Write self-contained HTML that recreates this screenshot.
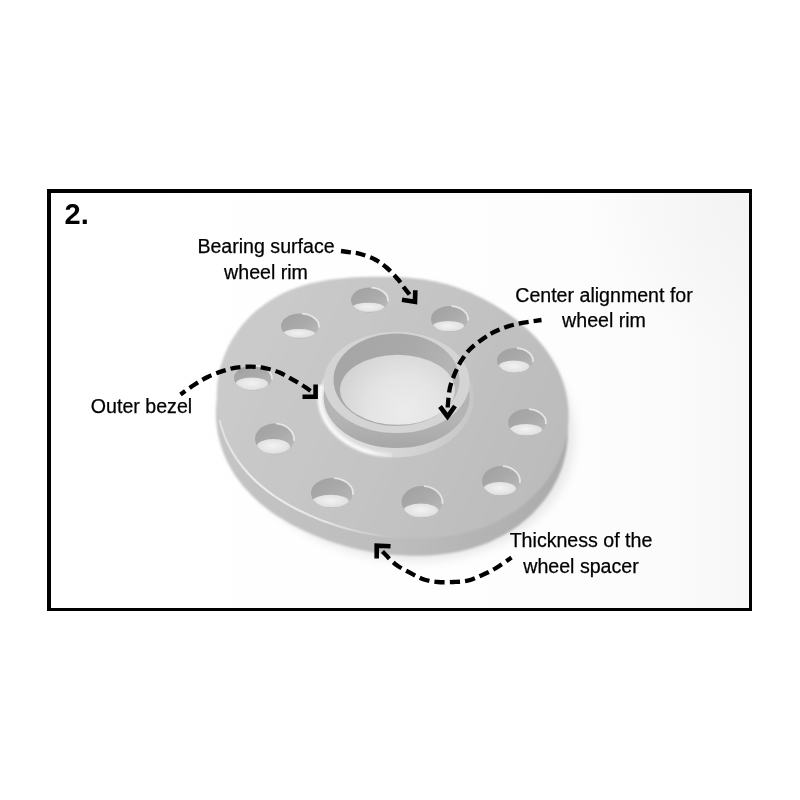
<!DOCTYPE html>
<html><head><meta charset="utf-8">
<style>
html,body{margin:0;padding:0;background:#fff;}
body{width:800px;height:800px;overflow:hidden;position:relative;font-family:"Liberation Sans",sans-serif;}
svg{position:absolute;left:0;top:0;}
.lbl{position:absolute;font-size:19.6px;color:#000;-webkit-text-stroke:0.25px #000;text-align:center;line-height:25px;white-space:nowrap;}
</style></head>
<body>
<svg width="800" height="800" viewBox="0 0 800 800">
<defs>
  <linearGradient id="bg" gradientUnits="userSpaceOnUse" x1="51" y1="0" x2="749" y2="0">
    <stop offset="0" stop-color="#ffffff"/>
    <stop offset="0.5" stop-color="#fefefe"/>
    <stop offset="0.75" stop-color="#fdfdfd"/>
    <stop offset="0.88" stop-color="#fbfbfb"/>
    <stop offset="1" stop-color="#f7f7f7"/>
  </linearGradient>
  <radialGradient id="bgtr" gradientUnits="userSpaceOnUse" cx="749" cy="193" r="160">
    <stop offset="0" stop-color="#f3f3f3" stop-opacity="1"/>
    <stop offset="1" stop-color="#f3f3f3" stop-opacity="0"/>
  </radialGradient>
  <filter id="blurH" x="-30%" y="-30%" width="160%" height="160%"><feGaussianBlur stdDeviation="5"/></filter>
  <filter id="hb" x="-5%" y="-5%" width="110%" height="110%"><feGaussianBlur stdDeviation="0.45"/></filter>
  <filter id="soft" x="-5%" y="-5%" width="110%" height="110%"><feGaussianBlur stdDeviation="0.8"/></filter>
  <linearGradient id="face" gradientUnits="userSpaceOnUse" x1="230" y1="330" x2="560" y2="480">
    <stop offset="0" stop-color="#cbcbcb"/>
    <stop offset="0.45" stop-color="#c5c5c5"/>
    <stop offset="1" stop-color="#bbbbbb"/>
  </linearGradient>
  <linearGradient id="side" gradientUnits="userSpaceOnUse" x1="220" y1="0" x2="570" y2="0">
    <stop offset="0" stop-color="#c4c4c4"/>
    <stop offset="0.5" stop-color="#bdbdbd"/>
    <stop offset="1" stop-color="#aaaaaa"/>
  </linearGradient>
  <linearGradient id="wall" gradientUnits="userSpaceOnUse" x1="350" y1="340" x2="460" y2="390">
    <stop offset="0" stop-color="#a6a6a6"/>
    <stop offset="0.5" stop-color="#a9a9a9"/>
    <stop offset="1" stop-color="#bababa"/>
  </linearGradient>
  <radialGradient id="floor" gradientUnits="userSpaceOnUse" cx="405" cy="412" r="72">
    <stop offset="0" stop-color="#ececec"/>
    <stop offset="0.5" stop-color="#e4e4e4"/>
    <stop offset="1" stop-color="#d2d2d2"/>
  </radialGradient>
  <linearGradient id="hubside" gradientUnits="userSpaceOnUse" x1="0" y1="420" x2="0" y2="450">
    <stop offset="0" stop-color="#b4b4b4"/>
    <stop offset="1" stop-color="#a6a6a6"/>
  </linearGradient>
  <linearGradient id="fillet" gradientUnits="userSpaceOnUse" x1="320" y1="0" x2="475" y2="0">
    <stop offset="0" stop-color="#e2e2e2"/>
    <stop offset="0.5" stop-color="#d6d6d6"/>
    <stop offset="1" stop-color="#c6c6c6"/>
  </linearGradient>
  <linearGradient id="hwall" x1="0" y1="0" x2="1" y2="1">
    <stop offset="0" stop-color="#a0a0a0"/>
    <stop offset="0.5" stop-color="#aaaaaa"/>
    <stop offset="1" stop-color="#bcbcbc"/>
  </linearGradient>
  <radialGradient id="hfloor" cx="0.5" cy="0.45" r="0.6">
    <stop offset="0" stop-color="#f2f2f2"/>
    <stop offset="0.7" stop-color="#e4e4e4"/>
    <stop offset="1" stop-color="#d2d2d2"/>
  </radialGradient>
  <linearGradient id="flh" gradientUnits="userSpaceOnUse" x1="320" y1="0" x2="400" y2="0">
    <stop offset="0" stop-color="#f8f8f8" stop-opacity="0.95"/>
    <stop offset="0.6" stop-color="#f8f8f8" stop-opacity="1"/>
    <stop offset="1" stop-color="#eeeeee" stop-opacity="0.3"/>
  </linearGradient>
  <linearGradient id="wlg" gradientUnits="userSpaceOnUse" x1="216" y1="0" x2="400" y2="0">
    <stop offset="0" stop-color="#ececec" stop-opacity="0.6"/>
    <stop offset="0.2" stop-color="#ececec" stop-opacity="1"/>
    <stop offset="0.6" stop-color="#e8e8e8" stop-opacity="0.9"/>
    <stop offset="1" stop-color="#e0e0e0" stop-opacity="0"/>
  </linearGradient>
  <clipPath id="boreclip"><ellipse cx="396.5" cy="379.7" rx="63" ry="46.3"/></clipPath>
  <clipPath id="hc0"><ellipse cx="369.5" cy="300" rx="18.5" ry="12.5"/></clipPath>
<clipPath id="hc1"><ellipse cx="449.5" cy="319" rx="18.5" ry="13"/></clipPath>
<clipPath id="hc2"><ellipse cx="515" cy="360.5" rx="18" ry="12.5"/></clipPath>
<clipPath id="hc3"><ellipse cx="527" cy="422.5" rx="19" ry="13.5"/></clipPath>
<clipPath id="hc4"><ellipse cx="501" cy="481" rx="19" ry="15"/></clipPath>
<clipPath id="hc5"><ellipse cx="422" cy="502" rx="20.5" ry="16"/></clipPath>
<clipPath id="hc6"><ellipse cx="332" cy="493" rx="21" ry="15"/></clipPath>
<clipPath id="hc7"><ellipse cx="274.5" cy="439" rx="19.5" ry="15.5"/></clipPath>
<clipPath id="hc8"><ellipse cx="253" cy="378" rx="19" ry="12.5"/></clipPath>
<clipPath id="hc9"><ellipse cx="300" cy="326" rx="19" ry="12.5"/></clipPath>
</defs>
<rect x="47" y="189" width="705" height="422" fill="#000"/>
<rect x="51" y="193" width="698" height="415" fill="url(#bg)"/>
<rect x="51" y="193" width="698" height="415" fill="url(#bgtr)"/>
<ellipse cx="400" cy="424" rx="176" ry="136" fill="#e9e9e9" filter="url(#blurH)" transform="rotate(10.1 400 424)"/>
<g filter="url(#soft)">
<path d="M216.6 425.6 L216.1 419.5 L215.9 413.3 L216.1 407.1 L216.6 400.9 L217.5 394.8 L218.7 388.7 L220.2 382.7 L222.1 376.8 L224.3 371.1 L226.8 365.4 L229.7 359.9 L232.8 354.6 L236.2 349.5 L239.8 344.6 L243.7 339.9 L247.9 335.4 L252.2 331.2 L256.8 327.2 L261.5 323.5 L266.4 320.0 L271.4 316.8 L276.5 313.9 L281.7 311.2 L287.0 308.7 L292.3 306.6 L297.7 304.6 L303.1 302.9 L308.4 301.4 L313.8 300.1 L319.1 299.0 L324.4 298.0 L329.6 297.2 L334.7 296.6 L339.8 296.0 L344.9 295.6 L349.8 295.2 L354.7 294.9 L359.6 294.7 L364.3 294.5 L369.1 294.4 L373.8 294.3 L378.4 294.3 L383.0 294.3 L387.6 294.4 L392.2 294.5 L396.8 294.6 L401.3 294.8 L405.9 295.1 L410.5 295.5 L415.1 296.0 L419.6 296.5 L424.2 297.2 L428.8 298.0 L433.4 298.8 L438.0 299.8 L442.6 301.0 L447.1 302.2 L451.7 303.6 L456.3 305.1 L460.8 306.8 L465.3 308.5 L469.9 310.4 L474.4 312.5 L478.9 314.6 L483.4 316.9 L487.9 319.3 L492.4 321.8 L496.9 324.5 L501.3 327.3 L505.8 330.3 L510.2 333.4 L514.6 336.7 L518.9 340.1 L523.2 343.8 L527.4 347.6 L531.5 351.5 L535.5 355.7 L539.4 360.1 L543.1 364.6 L546.6 369.4 L550.0 374.3 L553.1 379.5 L556.0 384.8 L558.6 390.2 L560.9 395.9 L562.9 401.6 L564.6 407.5 L565.9 413.5 L566.9 419.5 L567.5 425.6 L567.8 431.7 L567.7 437.9 L567.2 444.0 L566.4 450.1 L565.2 456.1 L563.7 462.1 L561.9 467.9 L559.7 473.6 L557.2 479.2 L554.4 484.6 L551.4 489.9 L548.1 495.0 L544.5 499.9 L540.8 504.6 L536.8 509.1 L532.7 513.4 L528.3 517.4 L523.9 521.3 L519.3 524.9 L514.6 528.3 L509.7 531.4 L504.8 534.4 L499.9 537.1 L494.8 539.6 L489.8 541.9 L484.7 544.0 L479.6 545.8 L474.4 547.5 L469.3 549.0 L464.2 550.3 L459.1 551.5 L454.1 552.5 L449.1 553.3 L444.1 554.0 L439.2 554.6 L434.3 555.1 L429.4 555.4 L424.6 555.6 L419.9 555.7 L415.2 555.8 L410.5 555.7 L405.9 555.6 L401.3 555.3 L396.7 555.0 L392.2 554.7 L387.7 554.2 L383.2 553.7 L378.8 553.1 L374.4 552.4 L370.0 551.7 L365.6 550.8 L361.2 549.9 L356.8 549.0 L352.5 547.9 L348.1 546.8 L343.7 545.6 L339.4 544.3 L335.0 542.9 L330.6 541.4 L326.2 539.9 L321.8 538.3 L317.4 536.5 L312.9 534.7 L308.5 532.8 L304.0 530.7 L299.5 528.6 L294.9 526.3 L290.4 523.9 L285.9 521.3 L281.4 518.6 L276.8 515.7 L272.3 512.7 L267.9 509.5 L263.5 506.0 L259.2 502.4 L254.9 498.6 L250.8 494.6 L246.8 490.3 L242.9 485.9 L239.3 481.3 L235.8 476.4 L232.6 471.4 L229.6 466.2 L226.8 460.8 L224.3 455.2 L222.2 449.5 L220.3 443.7 L218.7 437.7 L217.5 431.7Z" fill="url(#side)"/>
<path d="M217.4 408.0 L216.9 401.9 L216.7 395.7 L216.9 389.5 L217.4 383.3 L218.3 377.2 L219.5 371.1 L221.0 365.1 L222.9 359.2 L225.1 353.5 L227.6 347.8 L230.5 342.3 L233.6 337.0 L237.0 331.9 L240.6 327.0 L244.5 322.3 L248.7 317.8 L253.0 313.6 L257.6 309.6 L262.3 305.9 L267.2 302.4 L272.2 299.2 L277.3 296.3 L282.5 293.6 L287.8 291.1 L293.1 289.0 L298.5 287.0 L303.9 285.3 L309.2 283.8 L314.6 282.5 L319.9 281.4 L325.2 280.4 L330.4 279.6 L335.5 279.0 L340.6 278.4 L345.7 278.0 L350.6 277.6 L355.5 277.3 L360.4 277.1 L365.1 276.9 L369.9 276.8 L374.6 276.7 L379.2 276.7 L383.8 276.7 L388.4 276.8 L393.0 276.9 L397.6 277.0 L402.1 277.2 L406.7 277.5 L411.3 277.9 L415.9 278.4 L420.4 278.9 L425.0 279.6 L429.6 280.4 L434.2 281.2 L438.8 282.2 L443.4 283.4 L447.9 284.6 L452.5 286.0 L457.1 287.5 L461.6 289.2 L466.1 290.9 L470.7 292.8 L475.2 294.9 L479.7 297.0 L484.2 299.3 L488.7 301.7 L493.2 304.2 L497.7 306.9 L502.1 309.7 L506.6 312.7 L511.0 315.8 L515.4 319.1 L519.7 322.5 L524.0 326.2 L528.2 330.0 L532.3 333.9 L536.3 338.1 L540.2 342.5 L543.9 347.0 L547.4 351.8 L550.8 356.7 L553.9 361.9 L556.8 367.2 L559.4 372.6 L561.7 378.3 L563.7 384.0 L565.4 389.9 L566.7 395.9 L567.7 401.9 L568.3 408.0 L568.6 414.1 L568.5 420.3 L568.0 426.4 L567.2 432.5 L566.0 438.5 L564.5 444.5 L562.7 450.3 L560.5 456.0 L558.0 461.6 L555.2 467.0 L552.2 472.3 L548.9 477.4 L545.3 482.3 L541.6 487.0 L537.6 491.5 L533.5 495.8 L529.1 499.8 L524.7 503.7 L520.1 507.3 L515.4 510.7 L510.5 513.8 L505.6 516.8 L500.7 519.5 L495.6 522.0 L490.6 524.3 L485.5 526.4 L480.4 528.2 L475.2 529.9 L470.1 531.4 L465.0 532.7 L459.9 533.9 L454.9 534.9 L449.9 535.7 L444.9 536.4 L440.0 537.0 L435.1 537.5 L430.2 537.8 L425.4 538.0 L420.7 538.1 L416.0 538.2 L411.3 538.1 L406.7 538.0 L402.1 537.7 L397.5 537.4 L393.0 537.1 L388.5 536.6 L384.0 536.1 L379.6 535.5 L375.2 534.8 L370.8 534.1 L366.4 533.2 L362.0 532.3 L357.6 531.4 L353.3 530.3 L348.9 529.2 L344.5 528.0 L340.2 526.7 L335.8 525.3 L331.4 523.8 L327.0 522.3 L322.6 520.7 L318.2 518.9 L313.7 517.1 L309.3 515.2 L304.8 513.1 L300.3 511.0 L295.7 508.7 L291.2 506.3 L286.7 503.7 L282.2 501.0 L277.6 498.1 L273.1 495.1 L268.7 491.9 L264.3 488.4 L260.0 484.8 L255.7 481.0 L251.6 477.0 L247.6 472.7 L243.7 468.3 L240.1 463.7 L236.6 458.8 L233.4 453.8 L230.4 448.6 L227.6 443.2 L225.1 437.6 L223.0 431.9 L221.1 426.1 L219.5 420.1 L218.3 414.1Z" fill="url(#face)"/>
</g>
<path d="M219.5 420.1 L221.1 426.1 L223.0 431.9 L225.1 437.6 L227.6 443.2 L230.4 448.6 L233.4 453.8 L236.6 458.8 L240.1 463.7 L243.7 468.3 L247.6 472.7 L251.6 477.0 L255.7 481.0 L260.0 484.8 L264.3 488.4 L268.7 491.9 L273.1 495.1 L277.6 498.1 L282.2 501.0 L286.7 503.7 L291.2 506.3 L295.7 508.7 L300.3 511.0 L304.8 513.1 L309.3 515.2 L313.7 517.1 L318.2 518.9 L322.6 520.7 L327.0 522.3 L331.4 523.8 L335.8 525.3 L340.2 526.7 L344.5 528.0 L348.9 529.2 L353.3 530.3 L357.6 531.4 L362.0 532.3 L366.4 533.2 L370.8 534.1 L375.2 534.8 L379.6 535.5 L384.0 536.1 L388.5 536.6 L393.0 537.1 L397.5 537.4 L402.1 537.7 L406.7 538.0" fill="none" stroke="url(#wlg)" stroke-width="2.2"/>
<ellipse cx="396.6" cy="397.4" rx="77" ry="60" fill="url(#fillet)"/>
<path d="M321.3 385 A75 58 0 0 0 392 455.3" fill="none" stroke="url(#flh)" stroke-width="4.6" filter="url(#soft)"/>
<ellipse cx="396.6" cy="397.4" rx="73" ry="50.6" fill="url(#hubside)"/>
<ellipse cx="396.6" cy="382.4" rx="73" ry="50.6" fill="#d4d4d4"/>
<ellipse cx="396.5" cy="379.7" rx="63" ry="46.3" fill="url(#wall)"/>
<ellipse cx="397.5" cy="389.8" rx="57.5" ry="35" fill="url(#floor)" clip-path="url(#boreclip)"/>
<g filter="url(#hb)">
<ellipse cx="369.5" cy="300" rx="18.5" ry="12.5" fill="url(#hwall)"/>
<g clip-path="url(#hc0)"><ellipse cx="368.4" cy="307.4" rx="15.9" ry="4.7" fill="url(#hfloor)"/></g>
<path d="M371.4 287.6 A18.5 12.5 0 0 1 387.8 301.5" fill="none" stroke="#f0f0f0" stroke-width="1.8" opacity="0.8"/>
<ellipse cx="449.5" cy="319" rx="18.5" ry="13" fill="url(#hwall)"/>
<g clip-path="url(#hc1)"><ellipse cx="448.4" cy="326.3" rx="15.9" ry="5.3" fill="url(#hfloor)"/></g>
<path d="M451.4 306.1 A18.5 13 0 0 1 467.8 320.6" fill="none" stroke="#f0f0f0" stroke-width="1.8" opacity="0.8"/>
<ellipse cx="515" cy="360.5" rx="18" ry="12.5" fill="url(#hwall)"/>
<g clip-path="url(#hc2)"><ellipse cx="513.9" cy="366.6" rx="15.5" ry="6.1" fill="url(#hfloor)"/></g>
<path d="M516.8 348.1 A18 12.5 0 0 1 532.8 362.0" fill="none" stroke="#f0f0f0" stroke-width="1.8" opacity="0.8"/>
<ellipse cx="527" cy="422.5" rx="19" ry="13.5" fill="url(#hwall)"/>
<g clip-path="url(#hc3)"><ellipse cx="525.9" cy="429.8" rx="16.3" ry="5.8" fill="url(#hfloor)"/></g>
<path d="M528.9 409.1 A19 13.5 0 0 1 545.8 424.1" fill="none" stroke="#f0f0f0" stroke-width="1.8" opacity="0.8"/>
<ellipse cx="501" cy="481" rx="19" ry="15" fill="url(#hwall)"/>
<g clip-path="url(#hc4)"><ellipse cx="499.9" cy="488.8" rx="16.3" ry="6.7" fill="url(#hfloor)"/></g>
<path d="M502.9 466.1 A19 15 0 0 1 519.8 482.8" fill="none" stroke="#f0f0f0" stroke-width="1.8" opacity="0.8"/>
<ellipse cx="422" cy="502" rx="20.5" ry="16" fill="url(#hwall)"/>
<g clip-path="url(#hc5)"><ellipse cx="420.8" cy="510.6" rx="17.6" ry="7.0" fill="url(#hfloor)"/></g>
<path d="M424.1 486.2 A20.5 16 0 0 1 442.3 503.9" fill="none" stroke="#f0f0f0" stroke-width="1.8" opacity="0.8"/>
<ellipse cx="332" cy="493" rx="21" ry="15" fill="url(#hwall)"/>
<g clip-path="url(#hc6)"><ellipse cx="330.7" cy="501.2" rx="18.1" ry="6.4" fill="url(#hfloor)"/></g>
<path d="M334.1 478.1 A21 15 0 0 1 352.8 494.8" fill="none" stroke="#f0f0f0" stroke-width="1.8" opacity="0.8"/>
<ellipse cx="274.5" cy="439" rx="19.5" ry="15.5" fill="url(#hwall)"/>
<g clip-path="url(#hc7)"><ellipse cx="273.3" cy="446.5" rx="16.8" ry="7.5" fill="url(#hfloor)"/></g>
<path d="M276.4 423.7 A19.5 15.5 0 0 1 293.8 440.9" fill="none" stroke="#f0f0f0" stroke-width="1.8" opacity="0.8"/>
<ellipse cx="253" cy="378" rx="19" ry="12.5" fill="url(#hwall)"/>
<g clip-path="url(#hc8)"><ellipse cx="251.9" cy="383.8" rx="16.3" ry="6.4" fill="url(#hfloor)"/></g>
<path d="M254.9 365.6 A19 12.5 0 0 1 271.8 379.5" fill="none" stroke="#f0f0f0" stroke-width="1.8" opacity="0.8"/>
<ellipse cx="300" cy="326" rx="19" ry="12.5" fill="url(#hwall)"/>
<g clip-path="url(#hc9)"><ellipse cx="298.9" cy="333.6" rx="16.3" ry="4.5" fill="url(#hfloor)"/></g>
<path d="M301.9 313.6 A19 12.5 0 0 1 318.8 327.5" fill="none" stroke="#f0f0f0" stroke-width="1.8" opacity="0.8"/>
</g>
<g fill="none" stroke="#000" stroke-width="4.3">
  <path d="M341.0 251.0 C342.6 251.2 347.2 251.8 350.5 252.3 C353.8 252.8 356.4 252.8 360.5 254.0 C364.6 255.2 370.7 257.2 375.0 259.5 C379.3 261.8 382.8 264.3 386.5 267.5 C390.2 270.7 394.3 275.2 397.2 278.5 C400.2 281.8 402.0 284.8 404.0 287.5 C406.0 290.2 408.6 293.3 409.5 294.5" stroke-dasharray="9.98 4.99"/>
  <path d="M180.5 394.5 C182.9 392.8 190.0 387.5 194.7 384.5 C199.4 381.5 203.9 378.8 208.7 376.5 C213.5 374.2 218.7 372.4 223.2 370.9 C227.8 369.4 231.6 368.3 236.3 367.6 C241.0 366.9 246.5 366.6 251.2 366.7 C256.0 366.8 260.2 367.3 264.9 368.2 C269.5 369.1 274.3 370.4 279.0 372.3 C283.7 374.2 288.6 377.2 293.1 379.8 C297.6 382.4 303.4 385.9 306.2 387.8 C309.1 389.7 309.8 390.5 310.5 391.0" stroke-dasharray="6.00 5.06 10.13 5.06 10.13 5.06 10.13 5.06 10.13 5.06 10.13 5.06 10.13 5.06 10.13 5.06 10.13 5.06 10.13 5.06 10.13 5.06"/>
  <path d="M541.5 320.0 C538.5 320.4 529.3 321.5 523.8 322.6 C518.2 323.7 513.0 324.8 508.0 326.4 C503.0 328.0 498.2 329.9 494.0 332.0 C489.8 334.1 487.0 335.9 483.0 338.8 C479.0 341.6 473.7 345.5 470.0 349.2 C466.3 353.0 463.5 357.2 461.0 361.2 C458.5 365.2 456.8 368.9 455.0 373.2 C453.2 377.6 451.2 382.5 450.0 387.5 C448.8 392.5 448.4 399.9 448.0 403.2 C447.6 406.6 447.8 406.8 447.8 407.5" stroke-dasharray="8.00 4.99 9.97 4.99 9.97 4.99 9.97 4.99 9.97 4.99 9.97 4.99 9.97 4.99 9.97 4.99 9.97 4.99 9.97 4.99 9.97 4.99"/>
  <path d="M511.5 557.5 C508.8 559.3 500.3 565.5 495.3 568.5 C490.3 571.5 485.9 573.5 481.3 575.5 C476.7 577.5 472.3 579.6 467.7 580.7 C463.1 581.8 458.6 581.8 453.6 582.0 C448.6 582.2 442.6 582.4 437.7 582.0 C432.8 581.6 428.5 581.0 424.0 579.5 C419.5 578.0 415.3 575.6 410.8 573.2 C406.3 570.8 400.9 568.2 396.8 565.2 C392.6 562.2 388.5 557.6 386.1 555.3 C383.7 553.0 383.1 552.1 382.5 551.5" stroke-dasharray="6.50 5.11 10.22 5.11 10.22 5.11 10.22 5.11 10.22 5.11 10.22 5.11 10.22 5.11 10.22 5.11 10.22 5.11 10.22 5.11 10.22 5.11"/>
</g>
<g fill="none" stroke="#000" stroke-width="4.6" stroke-linejoin="miter">
  <path d="M402 299.8 L415 301.8 L415.3 290.2"/>
  <path d="M302.5 396.8 L315.6 396.8 L315.6 384.5"/>
  <path d="M440 406.5 L447.5 416.5 L455 406"/>
  <path d="M390.5 546.2 L376.7 545.6 L376.7 558.5"/>
</g>
<text x="64.5" y="223.5" font-family="Liberation Sans" font-weight="bold" font-size="29" fill="#000">2.</text>
</svg>
<div class="lbl" style="left:166px;top:234.3px;width:200px;line-height:25.5px;">Bearing surface<br>wheel rim</div>
<div class="lbl" style="left:504px;top:283px;width:200px;">Center alignment for<br>wheel rim</div>
<div class="lbl" style="left:41.5px;top:393.5px;width:200px;">Outer bezel</div>
<div class="lbl" style="left:481px;top:528.3px;width:200px;line-height:25.6px;">Thickness of the<br>wheel spacer</div>
</body></html>
